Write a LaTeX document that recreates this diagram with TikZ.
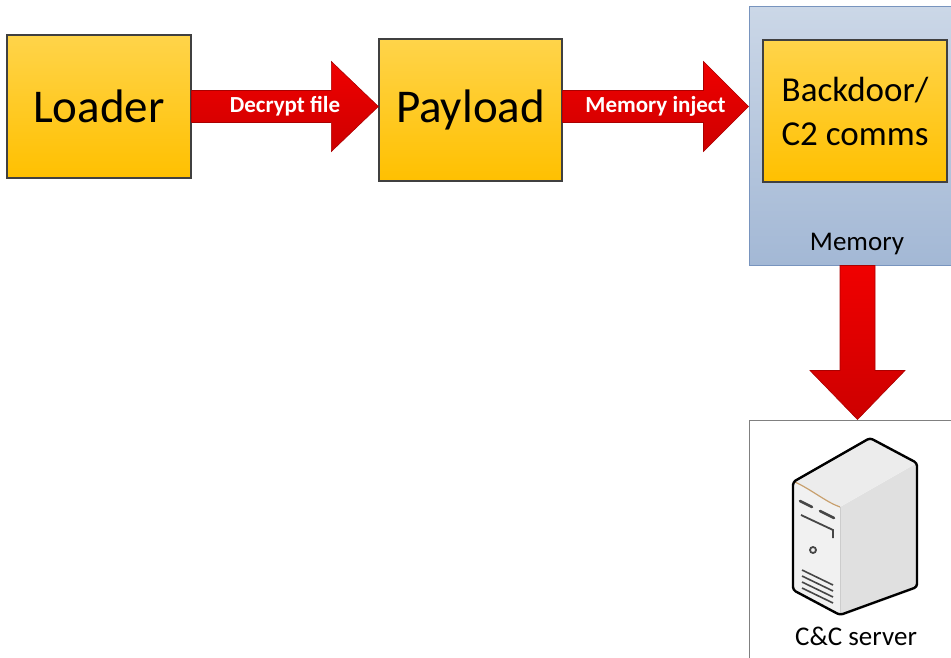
\documentclass[tikz,border=0pt]{standalone}
\usepackage{fontspec}
\setmainfont{Carlito}
\usepackage{tikz}
\usetikzlibrary{calc}

\definecolor{boxtop}{RGB}{255,212,74}
\definecolor{boxbot}{RGB}{255,192,0}
\definecolor{boxline}{RGB}{64,64,64}
\definecolor{redtop}{RGB}{240,0,0}
\definecolor{redbot}{RGB}{205,0,0}
\definecolor{redline}{RGB}{170,0,0}
\definecolor{memtop}{RGB}{203,215,231}
\definecolor{membot}{RGB}{163,184,213}
\definecolor{memline}{RGB}{120,148,190}
\definecolor{srvline}{RGB}{128,128,128}
\definecolor{tanline}{RGB}{200,160,110}

\tikzset{
  stage/.style={draw=boxline, line width=1.3pt, top color=boxtop, bottom color=boxbot,
    inner sep=0pt, align=center},
  fatarrow/.style={draw=redline, line width=0.6pt, top color=redtop, bottom color=redbot},
  arrowtext/.style={text=white, font=\bfseries\fontsize{23}{26}\selectfont},
  tag/.style={font=\fontsize{27}{30}\selectfont}
}

\begin{document}
\begin{tikzpicture}[x=1pt, y=-1pt]
      \clip (0,0) rectangle (951,658); %fix margins

      %draw memory and server frames
      \node[draw=memline, line width=1pt, top color=memtop, bottom color=membot,
            minimum width=217pt, minimum height=258pt, inner sep=0pt] (mem) at (857.5,136) {};
      \node[draw=srvline, line width=1pt, fill=white,
            minimum width=217pt, minimum height=260pt, inner sep=0pt] (server) at (857.5,550) {};

      %draw stage boxes
      \node[stage, minimum width=184pt, minimum height=143pt, font=\fontsize{47}{56}\selectfont] (loader) at (99,106.5) {Loader};
      \node[stage, minimum width=183pt, minimum height=142pt, font=\fontsize{47}{56}\selectfont] (payload) at (470.5,110) {Payload};
      \node[stage, minimum width=184pt, minimum height=142pt, font=\fontsize{35}{44}\selectfont] (backdoor) at (855,111) {Backdoor/\\C2 comms};

      %draw fat arrows
      \coordinate (tip1) at (loader.east -| payload.west);
      \coordinate (tip2) at ($(tip1 -| mem.west)$);
      \coordinate (tip3) at (mem.south |- server.north);
      \draw[fatarrow] ($(loader.east)+(0,-16)$) -- ($(tip1)+(-47,-16)$) -- ($(tip1)+(-47,-45)$) -- (tip1)
        -- ($(tip1)+(-47,45)$) -- ($(tip1)+(-47,16)$) -- ($(loader.east)+(0,16)$) -- cycle;
      \draw[fatarrow] ($(payload.east |- tip2)+(0,-16)$) -- ($(tip2)+(-45,-16)$) -- ($(tip2)+(-45,-45)$) -- (tip2)
        -- ($(tip2)+(-45,45)$) -- ($(tip2)+(-45,16)$) -- ($(payload.east |- tip2)+(0,16)$) -- cycle;
      \draw[fatarrow] ($(mem.south)+(-17.5,0)$) -- ($(tip3)+(-17.5,-49)$) -- ($(tip3)+(-47.5,-49)$) -- (tip3)
        -- ($(tip3)+(47.5,-49)$) -- ($(tip3)+(17.5,-49)$) -- ($(mem.south)+(17.5,0)$) -- cycle;

      %draw labels
      \node[arrowtext] (decrypt) at (285,106) {Decrypt file};
      \node[arrowtext] (inject) at (655.5,106) {Memory inject};
      \node[tag] (memlabel) at (857,244) {Memory};
      \node[tag] (srvlabel) at (856,636) {C\&C server};

      %draw server icon
      \fill[gray!24] (840,507) -- (917,463) -- (917,587) -- (840,615) -- cycle;
      \fill[gray!15] (793,482) -- (870,438) -- (917,463) -- (840,507) -- cycle;
      \fill[gray!11] (793,482) .. controls (812,490) and (826,502) .. (840,507) -- (840,615) -- (793,590) -- cycle;
      \draw[gray!40, line width=0.6pt] (840,507) -- (840,615);
      \draw[tanline, line width=1.2pt] (795,482) .. controls (812,490) and (826,502) .. (840,507);
      \draw[line width=2.4pt, line join=round, rounded corners=3pt]
        (793,482) -- (870,438) -- (917,463) -- (917,587) -- (840,615) -- (793,590) -- cycle;
      \draw[gray!55!black, line width=2.6pt, line cap=round] (800,501) -- (812,507);
      \draw[gray!55!black, line width=2.6pt, line cap=round] (820,511) -- (834,518);
      \draw[gray!55!black, line width=1.8pt] (801,515) -- (833,530) -- (833,538);
      \draw[gray!55!black, line width=1.8pt] (813,550) circle (3);
      \draw[gray!55!black, line width=1.6pt] (802,570) -- (833,585);
      \draw[gray!55!black, line width=1.6pt] (802,576) -- (833,591);
      \draw[gray!55!black, line width=1.6pt] (802,582) -- (833,597);
      \draw[gray!55!black, line width=1.6pt] (802,588) -- (833,603);
\end{tikzpicture}
\end{document}
